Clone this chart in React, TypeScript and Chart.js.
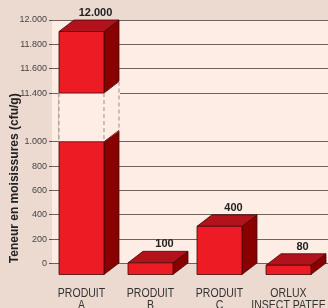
import { useEffect, useRef } from 'react';
import { Chart, registerables } from 'chart.js';

Chart.register(...registerables);

const categories: string[][] = [
  ['PRODUIT', 'A'],
  ['PRODUIT', 'B'],
  ['PRODUIT', 'C'],
  ['ORLUX', 'INSECT PATEE'],
];
const values: number[] = [12000, 100, 400, 80];
const valueLabels: string[] = ['12.000', '100', '400', '80'];
const tickLabels: string[] = ['0', '200', '400', '600', '800', '1.000', '', '11.400', '11.600', '11.800', '12.000'];
const yTitle = 'Teneur en moisissures (cfu/g)';

// broken axis: real 1000 -> 11400 compressed into 400 axis units
const breakStart = 1000;
const breakEnd = 11400;
const gapUnits = 400;
const toAxis = (v: number) => (v <= breakStart ? v : v - (breakEnd - breakStart) + gapUnits);

const OUTER = '#ecdad0';
const INNER = '#fdede4';
const FRONT = '#ed1c24';
const TOPC = '#b1121b';
const SIDE = '#880000';
const EDGE = '#3d0a0a';
const DX = 15;
const DY = 11.5;
const SHIFT = 5;
const SANS = '"Liberation Sans", Arial, sans-serif';

const bgPlugin = {
  id: 'bgPlugin',
  beforeDraw(chart: any) {
    const { ctx, chartArea: a } = chart;
    ctx.save();
    ctx.fillStyle = OUTER;
    ctx.fillRect(0, 0, chart.width, chart.height);
    ctx.fillStyle = INNER;
    ctx.fillRect(a.left, a.top, a.right - a.left, a.bottom - a.top);
    ctx.restore();
  },
};

function poly(ctx: CanvasRenderingContext2D, pts: number[][], fill: string) {
  ctx.beginPath();
  ctx.moveTo(pts[0][0], pts[0][1]);
  for (let i = 1; i < pts.length; i++) ctx.lineTo(pts[i][0], pts[i][1]);
  ctx.closePath();
  ctx.fillStyle = fill;
  ctx.fill();
  ctx.stroke();
}

const bars3d = {
  id: 'bars3d',
  afterDatasetsDraw(chart: any) {
    const { ctx } = chart;
    const ys = chart.scales.y;
    const meta = chart.getDatasetMeta(0);
    ctx.save();
    ctx.lineWidth = 0.8;
    ctx.strokeStyle = EDGE;
    ctx.lineJoin = 'round';
    meta.data.forEach((el: any, i: number) => {
      const p = el.getProps(['x', 'y', 'base', 'width'], true);
      const fl = p.x - p.width / 2 - SHIFT;
      const fr = fl + p.width;
      const top = p.y;
      const base = p.base;
      const ft = top + DY;
      const fb = base + DY;
      poly(ctx, [[fr, ft], [fr + DX, top], [fr + DX, base], [fr, fb]], SIDE);
      poly(ctx, [[fl, ft], [fl + DX, top], [fr + DX, top], [fr, ft]], TOPC);
      poly(ctx, [[fl, ft], [fr, ft], [fr, fb], [fl, fb]], FRONT);

      if (values[i] > breakEnd) {
        const y1 = ys.getPixelForValue(toAxis(breakEnd));
        const y2 = ys.getPixelForValue(breakStart);
        ctx.save();
        ctx.fillStyle = INNER;
        ctx.fillRect(fl - 0.5, y1, fr - fl + 1, y2 - y1);
        ctx.beginPath();
        ctx.moveTo(fr, y1);
        ctx.lineTo(fr + DX + 1, y1 - DY - 1);
        ctx.lineTo(fr + DX + 1, y2 - DY);
        ctx.lineTo(fr, y2);
        ctx.closePath();
        ctx.fill();
        ctx.strokeStyle = EDGE;
        ctx.beginPath();
        ctx.moveTo(fl, y1); ctx.lineTo(fr, y1); ctx.lineTo(fr + DX, y1 - DY);
        ctx.moveTo(fl, y2); ctx.lineTo(fr, y2); ctx.lineTo(fr + DX, y2 - DY);
        ctx.stroke();
        ctx.strokeStyle = '#9b8e89';
        ctx.lineWidth = 1;
        ctx.setLineDash([4, 3]);
        ctx.beginPath();
        ctx.moveTo(fl, y1); ctx.lineTo(fl, y2);
        ctx.moveTo(fr, y1); ctx.lineTo(fr, y2);
        ctx.moveTo(fr + DX, y1 - DY); ctx.lineTo(fr + DX, y2 - DY);
        ctx.stroke();
        ctx.restore();
      }

      ctx.fillStyle = '#222';
      ctx.font = `bold 11px ${SANS}`;
      ctx.textAlign = 'center';
      ctx.textBaseline = 'middle';
      ctx.fillText(valueLabels[i], (fl + fr) / 2 + DX - 1, top - 7);

      ctx.fillStyle = '#333';
      ctx.font = `13px ${SANS}`;
      ctx.textBaseline = 'alphabetic';
      const cx = (fl + fr) / 2;
      const lines = categories[i];
      lines.forEach((t, k) => {
        ctx.save();
        ctx.translate(cx, chart.chartArea.bottom + 33 + k * 12);
        ctx.scale(0.81, 1);
        ctx.fillText(t, 0, 0);
        ctx.restore();
      });
    });

    ctx.translate(14.5, ys.getPixelForValue(700));
    ctx.rotate(-Math.PI / 2);
    ctx.fillStyle = '#222';
    ctx.font = `bold 12px ${SANS}`;
    ctx.textAlign = 'center';
    ctx.textBaseline = 'middle';
    ctx.fillText(yTitle, 0, 0);
    ctx.restore();
  },
};

export default function App() {
  const ref = useRef<HTMLCanvasElement>(null);
  useEffect(() => {
    const chart = new Chart(ref.current!, {
      type: 'bar',
      data: {
        labels: categories.map((c) => c.join(' ')),
        datasets: [
          {
            data: values.map(toAxis),
            backgroundColor: 'rgba(0,0,0,0)',
            borderWidth: 0,
            barPercentage: 0.652,
            categoryPercentage: 1,
          },
        ],
      },
      options: {
        animation: false,
        responsive: false,
        layout: { padding: { top: 20, bottom: 44.5, left: 0, right: 0 } },
        plugins: { legend: { display: false }, tooltip: { enabled: false }, title: { display: false } },
        scales: {
          x: { display: false, offset: true },
          y: {
            min: 0,
            max: 2000,
            afterFit: (s: any) => {
              s.width = 52;
            },
            border: { display: false },
            grid: {
              color: (c: any) => (c.tick && c.tick.value === 1200 ? 'rgba(0,0,0,0)' : '#6e625e'),
              tickColor: (c: any) => (c.tick && c.tick.value === 1200 ? 'rgba(0,0,0,0)' : '#555'),
              tickLength: 3,
              lineWidth: 1,
            },
            ticks: {
              stepSize: 200,
              padding: 2,
              color: '#444',
              font: { size: 9, family: SANS },
              callback: (_v: any, i: number) => tickLabels[i],
            },
          },
        },
      },
      plugins: [bgPlugin, bars3d],
    });
    return () => chart.destroy();
  }, []);
  return (
    <div style={{ position: 'fixed', left: 0, top: 0, width: 328, height: 308, background: OUTER }}>
      <canvas ref={ref} width={328} height={308} style={{ display: 'block', width: 328, height: 308 }} />
    </div>
  );
}
